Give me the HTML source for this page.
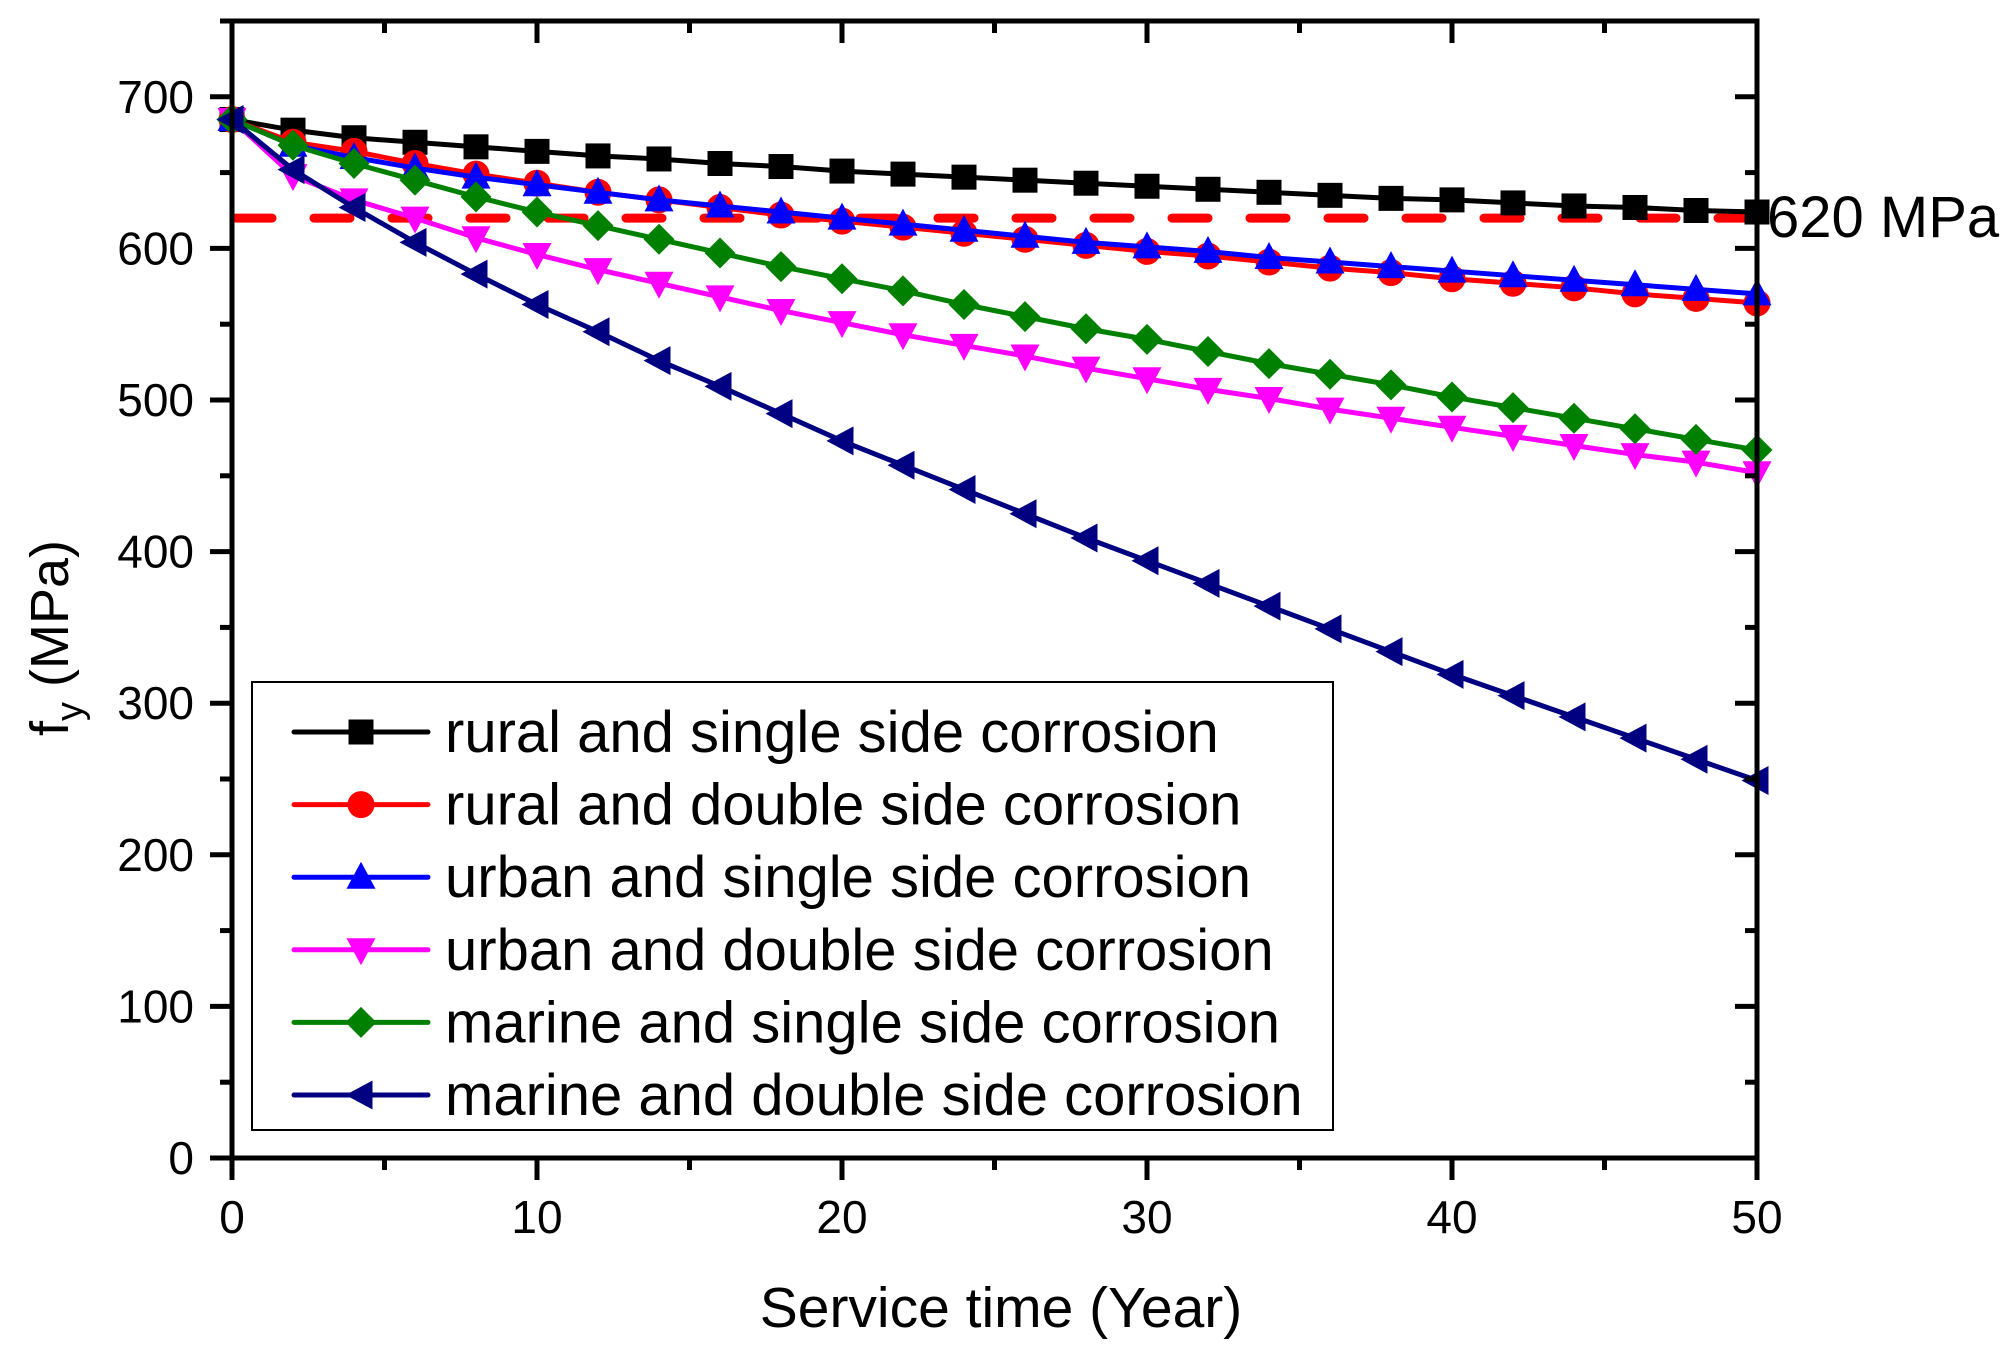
<!DOCTYPE html>
<html><head><meta charset="utf-8"><style>
html,body{margin:0;padding:0;background:#fff}
svg{display:block;font-family:"Liberation Sans",sans-serif}
</style></head><body>
<svg id="chart" width="2015" height="1355" viewBox="0 0 2015 1355">
<g id="plot"></g>
</svg>
<script>
const years=[0,2,4,6,8,10,12,14,16,18,20,22,24,26,28,30,32,34,36,38,40,42,44,46,48,50];
const ruralSingle=[685,678,673,670,667,664,661,659,656,654,651,649,647,645,643,641,639,637,635,633,632,630,628,627,625,624];
const ruralDouble=[685,670,664,656,649,643,637,632,627,622,618,614,610,606,602,598,595,591,587,584,580,577,574,570,567,564];
const urbanSingle=[685,668,660,653,647,642,637,632,628,624,620,616,612,608,604,601,598,594,591,588,585,582,579,576,573,570];
const urbanDouble=[685,648,632,620,607,596,586,577,568,559,551,543,536,529,521,514,507,501,494,488,482,476,470,464,459,452];
const marineSingle=[685,668,656,645,634,624,615,606,597,588,580,572,563,555,547,540,532,524,517,510,502,495,488,481,474,467];
const marineDouble=[685,652,627,604,583,563,545,526,509,491,473,457,441,425,409,394,379,364,349,334,319,305,291,277,263,249];
const seriesNames=["rural and single side corrosion","rural and double side corrosion","urban and single side corrosion","urban and double side corrosion","marine and single side corrosion","marine and double side corrosion"];
const xTicks=[0,10,20,30,40,50];
const yTicks=[0,100,200,300,400,500,600,700];
const threshold=620;

const NS="http://www.w3.org/2000/svg";
const L=232,R=1757,T=21,B=1158;
const X=v=>L+(v-0)/50*(R-L);
const Y=v=>B-(v-0)/750*(B-T);
const g=document.getElementById('plot');
function mk(tag,attrs,parent){const e=document.createElementNS(NS,tag);for(const k in attrs)e.setAttribute(k,attrs[k]);(parent||g).appendChild(e);return e;}

let th=mk('line',{x1:X(0)+4,x2:X(50),y1:Y(threshold),y2:Y(threshold),stroke:'#ff0000','stroke-width':9,'stroke-dasharray':'36 42','stroke-linecap':'round'});



const colors=['#000000','#ff0000','#0000ff','#ff00ff','#008000','#000080'];
const shapes=['square','circle','up','down','diamond','left'];
const data=[ruralSingle,ruralDouble,urbanSingle,urbanDouble,marineSingle,marineDouble];
const slugs=['rural-single','rural-double','urban-single','urban-double','marine-single','marine-double'];

function marker(parent,shape,cx,cy,c){
  const s=12.5;let e;
  if(shape==='square')e=mk('rect',{x:cx-s,y:cy-s,width:2*s,height:2*s,fill:c},parent);
  else if(shape==='circle')e=mk('circle',{cx:cx,cy:cy,r:s+1,fill:c},parent);
  else if(shape==='up')e=mk('polygon',{points:`${cx},${cy-s-3} ${cx+s+2},${cy+s-1} ${cx-s-2},${cy+s-1}`,fill:c},parent);
  else if(shape==='down')e=mk('polygon',{points:`${cx},${cy+s+3} ${cx+s+2},${cy-s+1} ${cx-s-2},${cy-s+1}`,fill:c},parent);
  else if(shape==='diamond')e=mk('polygon',{points:`${cx},${cy-s-3} ${cx+s+3},${cy} ${cx},${cy+s+3} ${cx-s-3},${cy}`,fill:c},parent);
  else e=mk('polygon',{points:`${cx-s-3},${cy} ${cx+s-1},${cy-s-2} ${cx+s-1},${cy+s+2}`,fill:c},parent);
  return e;
}

data.forEach((arr,i)=>{
  const sg=mk('g',{});
  
  
  const ln=mk('polyline',{points:arr.map((v,j)=>X(years[j])+','+Y(v)).join(' '),fill:'none',stroke:colors[i],'stroke-width':5,'stroke-linejoin':'round'},sg);
  
  
  arr.forEach((v,j)=>{
    const m=marker(sg,shapes[i],X(years[j]),Y(v),colors[i]);
    
    
  });
});

const fr=mk('rect',{x:L,y:T,width:R-L,height:B-T,fill:'none',stroke:'#000','stroke-width':5});



for(let v=0;v<=50;v+=5){
  const major=v%10===0;
  const t1=mk('line',{x1:X(v),x2:X(v),y1:B,y2:B+(major?22:12),stroke:'#000','stroke-width':5});
  
  
  const t2=mk('line',{x1:X(v),x2:X(v),y1:T,y2:T+(major?22:12),stroke:'#000','stroke-width':5});
  
  
}
xTicks.forEach(v=>{
  const t=mk('text',{x:X(v),y:1233,'text-anchor':'middle','font-size':46,fill:'#000'});
  t.textContent=v;
  
  
});
for(let v=0;v<=750;v+=50){
  const major=v%100===0;
  const t1=mk('line',{x1:L-(major?22:12),x2:L,y1:Y(v),y2:Y(v),stroke:'#000','stroke-width':5});
  
  
  const t2=mk('line',{x1:R-(major?22:12),x2:R,y1:Y(v),y2:Y(v),stroke:'#000','stroke-width':5});
  
  
}
yTicks.forEach(v=>{
  const t=mk('text',{x:194,y:Y(v)+16,'text-anchor':'end','font-size':46,fill:'#000'});
  t.textContent=v;
  
  
});

const tl=mk('text',{x:1767,y:237,'font-size':58,fill:'#000'});
tl.textContent='620 MPa';



const xt=mk('text',{x:1001,y:1327,'text-anchor':'middle','font-size':57,fill:'#000'});
xt.textContent='Service time (Year)';


const yt=mk('text',{x:0,y:0,'text-anchor':'middle','font-size':54,fill:'#000',transform:'translate(68,638) rotate(-90)'});
yt.innerHTML='f<tspan font-size="38" dy="14">y</tspan><tspan dy="-14"> (MPa)</tspan>';



const lg=mk('g',{});


const lb=mk('rect',{x:252,y:682,width:1081,height:448,fill:'#fff',stroke:'#000','stroke-width':2},lg);


seriesNames.forEach((n,i)=>{
  const cy=732+i*72.6;
  const eg=mk('g',{},lg);
  
  
  mk('line',{x1:294,x2:428,y1:cy,y2:cy,stroke:colors[i],'stroke-width':5,'stroke-linecap':'round'},eg);
  marker(eg,shapes[i],361,cy,colors[i]);
  const t=mk('text',{x:445,y:cy+20,'font-size':58,fill:'#000',textLength:0},eg);
  t.removeAttribute('textLength');
  t.textContent=n;
});
</script>
</body></html>
